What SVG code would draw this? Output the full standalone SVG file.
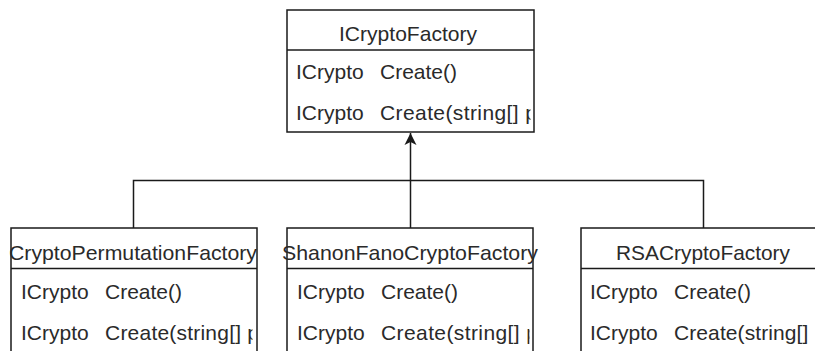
<svg xmlns="http://www.w3.org/2000/svg" width="815" height="351" viewBox="0 0 815 351">
  <style>
    .box{fill:#fff;stroke:#1a1a1a;stroke-width:1.5}
    .div{stroke:#1a1a1a;stroke-width:1.5}
    .t{font-family:"Liberation Sans",Arial,sans-serif;font-size:21px;fill:#2a2a2a}
    .c{text-anchor:middle}
    .edge{fill:none;stroke:#1a1a1a;stroke-width:1.5}
  </style>
  <defs>
    <marker id="arrow" markerUnits="userSpaceOnUse" markerWidth="12" markerHeight="13" refX="12" refY="6" orient="auto" viewBox="0 0 12 12">
      <path d="M0,0 L12,6 L0,12 L3,6 Z" fill="#1a1a1a"/>
    </marker>
    <clipPath id="clipTop"><rect x="287" y="50" width="243.5" height="82"/></clipPath>
    <clipPath id="clip1"><rect x="11" y="268" width="241.5" height="90"/></clipPath>
    <clipPath id="clip2"><rect x="287" y="268" width="242.5" height="90"/></clipPath>
    <clipPath id="clip3"><rect x="581" y="268" width="242" height="90"/></clipPath>
  </defs>

  <g id="ICryptoFactory">
    <rect class="box" x="287" y="10" width="247" height="122"/>
    <line class="div" x1="287" y1="50" x2="534" y2="50"/>
    <text class="t c" x="408" y="41" textLength="138" lengthAdjust="spacingAndGlyphs">ICryptoFactory</text>
    <g clip-path="url(#clipTop)">
      <text class="t" x="296" y="79">ICrypto</text>
      <text class="t" x="380" y="79">Create()</text>
      <text class="t" x="296" y="120">ICrypto</text>
      <text class="t" x="380" y="120" textLength="157">Create(string[] p</text>
    </g>
  </g>

  <g id="CryptoPermutationFactory">
    <rect class="box" x="11" y="228" width="246" height="140"/>
    <line class="div" x1="11" y1="268.5" x2="257" y2="268.5"/>
    <text class="t c" x="133" y="259.5" textLength="248" lengthAdjust="spacingAndGlyphs">CryptoPermutationFactory</text>
    <g clip-path="url(#clip1)">
      <text class="t" x="21" y="298.5">ICrypto</text>
      <text class="t" x="105" y="298.5">Create()</text>
      <text class="t" x="21" y="339.5">ICrypto</text>
      <text class="t" x="105" y="339.5" textLength="154">Create(string[] p</text>
    </g>
  </g>

  <g id="ShanonFanoCryptoFactory">
    <rect class="box" x="287" y="228" width="246" height="140"/>
    <line class="div" x1="287" y1="268.5" x2="533" y2="268.5"/>
    <text class="t c" x="410" y="259.5" textLength="256" lengthAdjust="spacingAndGlyphs">ShanonFanoCryptoFactory</text>
    <g clip-path="url(#clip2)">
      <text class="t" x="297" y="298.5">ICrypto</text>
      <text class="t" x="381" y="298.5">Create()</text>
      <text class="t" x="297" y="339.5">ICrypto</text>
      <text class="t" x="381" y="339.5" textLength="157">Create(string[] p</text>
    </g>
  </g>

  <g id="RSACryptoFactory">
    <rect class="box" x="581" y="228" width="246" height="140"/>
    <line class="div" x1="581" y1="268.5" x2="827" y2="268.5"/>
    <text class="t c" x="703" y="259.5" textLength="174" lengthAdjust="spacingAndGlyphs">RSACryptoFactory</text>
    <g clip-path="url(#clip3)">
      <text class="t" x="590" y="298.5">ICrypto</text>
      <text class="t" x="674" y="298.5">Create()</text>
      <text class="t" x="590" y="339.5">ICrypto</text>
      <text class="t" x="674" y="339.5" textLength="152">Create(string[] p</text>
    </g>
  </g>

  <g id="connectors">
    <path class="edge" d="M133.5,228 V180.5 H703.5 V228"/>
    <path class="edge" d="M410.5,228 V133" marker-end="url(#arrow)"/>
  </g>
</svg>
